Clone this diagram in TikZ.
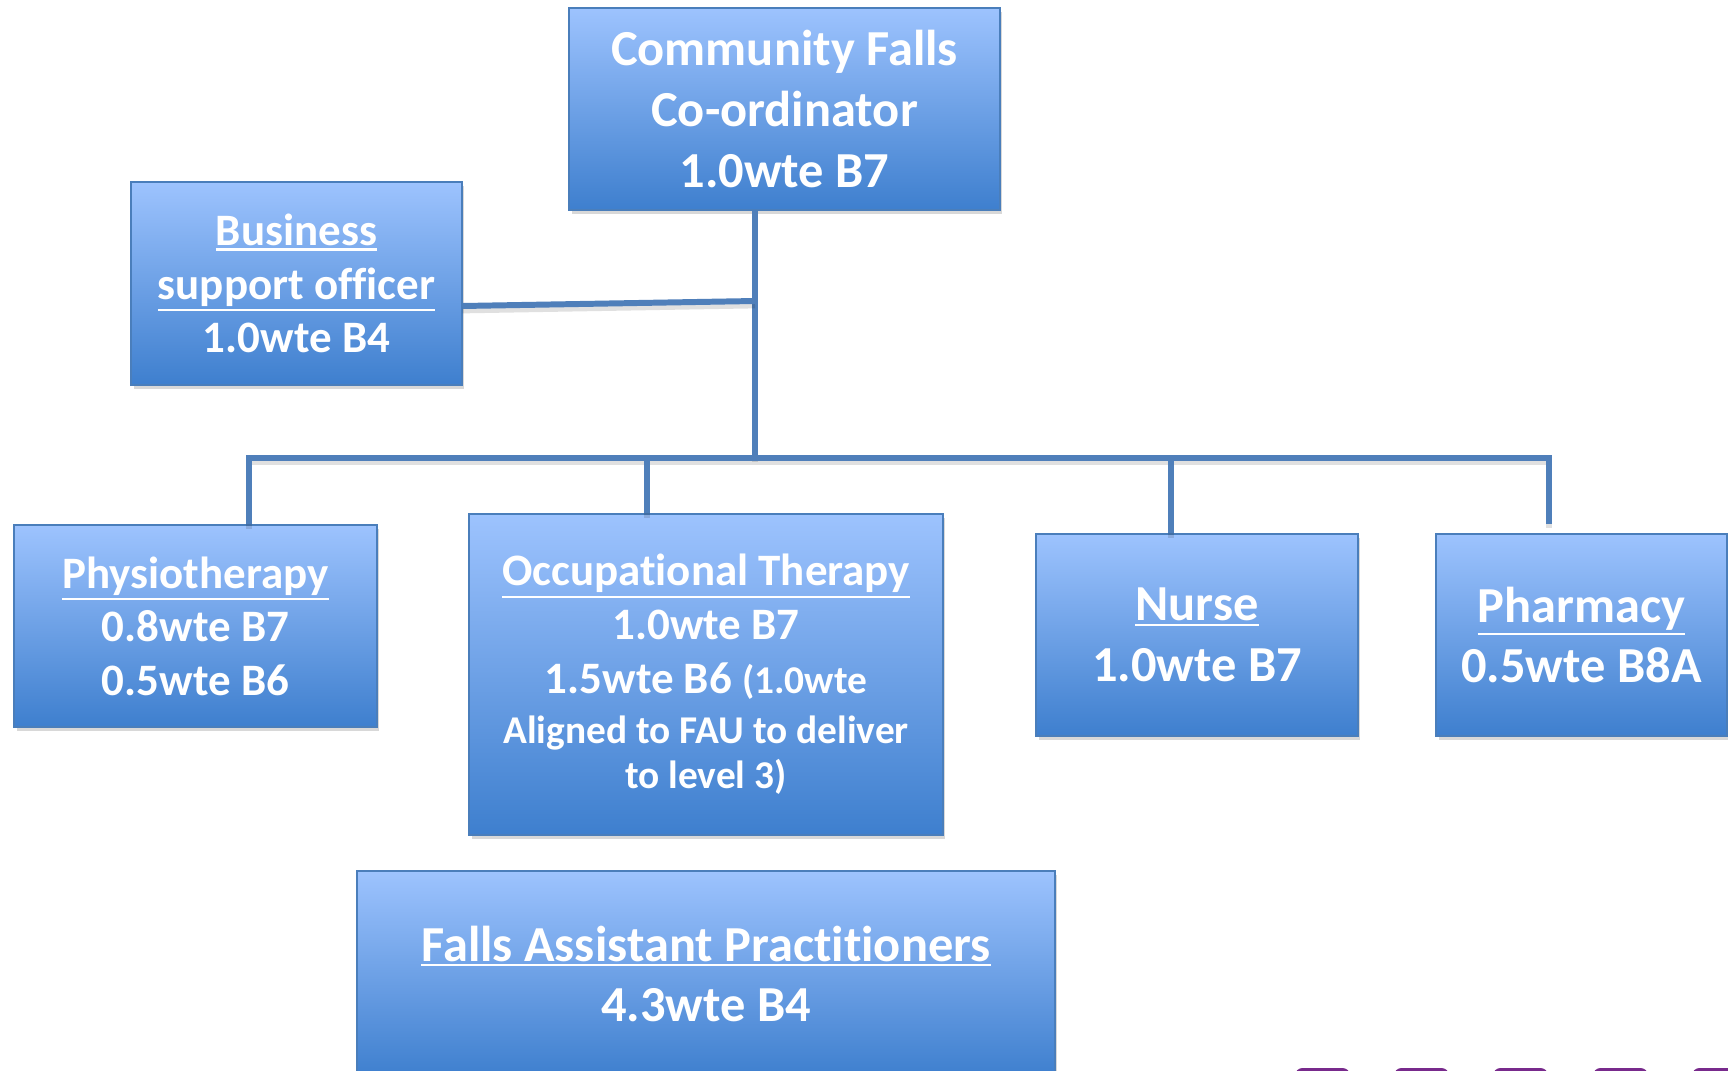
\documentclass[tikz,border=0pt]{standalone}
\usepackage{fontspec}
\setmainfont{Carlito}[Ligatures=NoCommon]
\usepackage{xcolor}
\usepackage{tikz}
\usetikzlibrary{positioning,shadows}

\definecolor{boxtop}{HTML}{9DC3FE}
\definecolor{boxbot}{HTML}{3E7FCE}
\definecolor{boxline}{HTML}{4A7EBB}
\definecolor{linkblue}{HTML}{4F7FBA}
\definecolor{tabpurple}{HTML}{782A8C}

\newcommand{\smalltxt}{\fontsize{22.4}{26}\selectfont}
\newcommand{\ulined}[1]{\setbox0=\hbox{#1}\leavevmode
    \rlap{\rule[-\dimexpr\dp0+2.8pt\relax]{\wd0}{1.3pt}}\box0}

\tikzset{
    orgbox/.style={draw=boxline, line width=0.8pt, top color=boxtop, bottom color=boxbot,
        text=white, align=center, inner sep=0pt,
        drop shadow={opacity=0.3, shadow xshift=0.05cm, shadow yshift=-0.08cm}},
    bigtext/.style={font=\bfseries\fontsize{28.7}{34.5}\selectfont},
    midtext/.style={font=\bfseries\fontsize{25.6}{30.5}\selectfont},
    link/.style={draw=linkblue, line width=3.4pt,
        preaction={draw=black, opacity=0.12, line width=3.4pt, transform canvas={yshift=-2.5pt}}}
}

\begin{document}
\begin{tikzpicture}[x=0.02cm, y=-0.02cm]
    \clip (0,0) rectangle (1728,1071);
    \fill[white] (0,0) rectangle (1728,1071);

    % Boxes
    \node[orgbox, bigtext, minimum width=8.62cm, minimum height=4.04cm] (coord) at (784.5,109)
        {Community Falls\\Co-ordinator\\1.0wte B7};
    \node[orgbox, midtext, minimum width=6.62cm, minimum height=4.06cm] (biz) at (296.5,283.5)
        {\ulined{Business}\\\ulined{support officer}\\1.0wte B4};
    \node[orgbox, midtext, minimum width=7.26cm, minimum height=4.04cm] (physio) at (195.5,626)
        {\ulined{Physiotherapy}\\0.8wte B7\\0.5wte B6};
    \node[orgbox, midtext, minimum width=9.48cm, minimum height=6.42cm] (ot) at (706,674.5)
        {\ulined{Occupational Therapy}\\1.0wte B7\\1.5wte B6 {\smalltxt(1.0wte}\\[-2pt]
         {\smalltxt Aligned to FAU to deliver}\\[-4.6pt]{\smalltxt to level 3)}};
    \node[orgbox, bigtext, minimum width=6.44cm, minimum height=4.04cm] (nurse) at (1197,635)
        {\ulined{Nurse}\\1.0wte B7};
    \node[orgbox, bigtext, minimum width=5.82cm, minimum height=4.04cm] (pharm) at (1581.5,635)
        {\ulined{Pharmacy}\\0.5wte B8A};
    \node[orgbox, bigtext, minimum width=13.96cm, minimum height=4.12cm] (fap) at (706,974)
        {\ulined{Falls Assistant Practitioners}\\4.3wte B4};

    % Connectors
    \coordinate (hub) at (755,458);
    \coordinate (bizjoin) at (755,301);
    \coordinate (busL) at (249,458);
    \coordinate (busR) at (1549,458);
    \coordinate (otjoin) at (647,458);
    \coordinate (nursejoin) at (1171,458);
    \coordinate (pharmtap) at (1549,524);

    \draw[link] (coord.south -| hub) -- (hub);
    \draw[link] ([yshift=-0.45cm]biz.east) -- (bizjoin);
    \draw[link] (busL |- physio.north) -- (busL) -- (busR) -- (pharmtap);
    \draw[link] (otjoin) -- (otjoin |- ot.north);
    \draw[link] (nursejoin) -- (nursejoin |- nurse.north);

    % Tabs at the lower edge
    \foreach \x in {1295,1394,1493,1593,1692} {
        \fill[tabpurple, rounded corners=0.15cm] (\x,1068) rectangle ++(55,30);
    }
\end{tikzpicture}
\end{document}
